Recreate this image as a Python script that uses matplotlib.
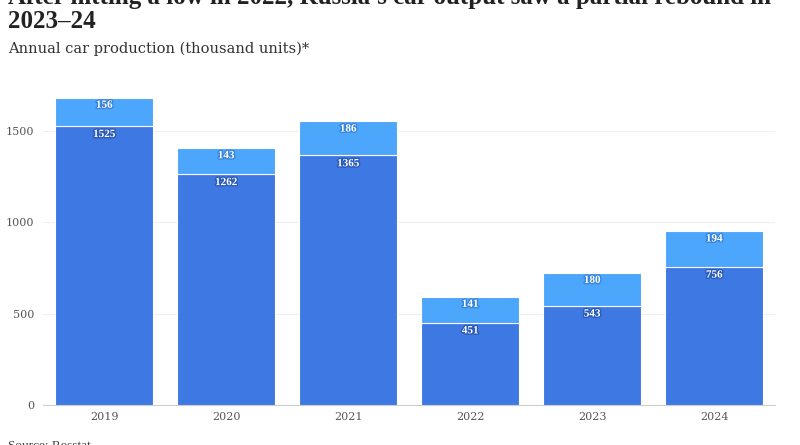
import matplotlib
matplotlib.use("Agg")
import matplotlib.pyplot as plt
import matplotlib.patheffects as pe
import numpy as np

years = ["2019", "2020", "2021", "2022", "2023", "2024"]
base_values = [1525, 1262, 1365, 451, 543, 756]
top_values = [156, 143, 186, 141, 180, 194]
yticks = [0, 500, 1000, 1500]

dark = "#3d78e3"
light = "#4ba6fc"
serif = ["Liberation Serif", "DejaVu Serif"]
wide = ["DejaVu Serif"]

fig = plt.figure(figsize=(8, 4.45), dpi=100)
ax = fig.add_axes([0.054, 0.0899, 0.915, 0.719])

x = np.arange(len(years))
ax.bar(x, base_values, width=0.8, color=dark, edgecolor="white", linewidth=0.8, zorder=3)
ax.bar(x, top_values, bottom=base_values, width=0.8, color=light, edgecolor="white", linewidth=0.8, zorder=3)

for xi, bv, tv in zip(x, base_values, top_values):
    ax.annotate(str(bv), (xi, bv), xytext=(0, -6), textcoords="offset points",
                ha="center", va="center", color="white", fontsize=8, fontweight="bold",
                family=serif, path_effects=[pe.withStroke(linewidth=2, foreground="#2b5bb8")], zorder=4)
    ax.annotate(str(tv), (xi, bv + tv), xytext=(0, -5.5), textcoords="offset points",
                ha="center", va="center", color="white", fontsize=8, fontweight="bold",
                family=serif, path_effects=[pe.withStroke(linewidth=2, foreground="#3a86d8")], zorder=4)

ax.set_xlim(-0.5, len(years) - 0.5)
ax.set_ylim(0, 1750)
ax.set_yticks(yticks)
ax.set_yticklabels([str(v) for v in yticks], family=wide, fontsize=8, color="#555555")
ax.set_xticks(x)
ax.set_xticklabels(years, family=wide, fontsize=8, color="#555555")
ax.tick_params(axis="y", length=0, pad=6.5)
ax.tick_params(axis="x", length=0, pad=5)
ax.grid(axis="y", color="#eeeeee", linewidth=0.8, zorder=0)
for s in ["top", "right", "left"]:
    ax.spines[s].set_visible(False)
ax.spines["bottom"].set_color("#cccccc")

fig.text(0.01, 1 - 4 / 445, "After hitting a low in 2022, Russia's car output saw a partial rebound in",
         family=serif, fontsize=18, fontweight="bold", color="#222222", va="baseline")
fig.text(0.01, 1 - 28 / 445, "2023–24",
         family=serif, fontsize=18, fontweight="bold", color="#222222", va="baseline")
fig.text(0.01, 1 - 53 / 445, "Annual car production (thousand units)*",
         family=wide, fontsize=10.5, color="#333333", va="baseline")
fig.text(0.01, 1 - 449 / 445, "Source: Rosstat",
         family=serif, fontsize=9.5, color="#444444", va="baseline")

fig.savefig("out.png", dpi=100, facecolor="white")
